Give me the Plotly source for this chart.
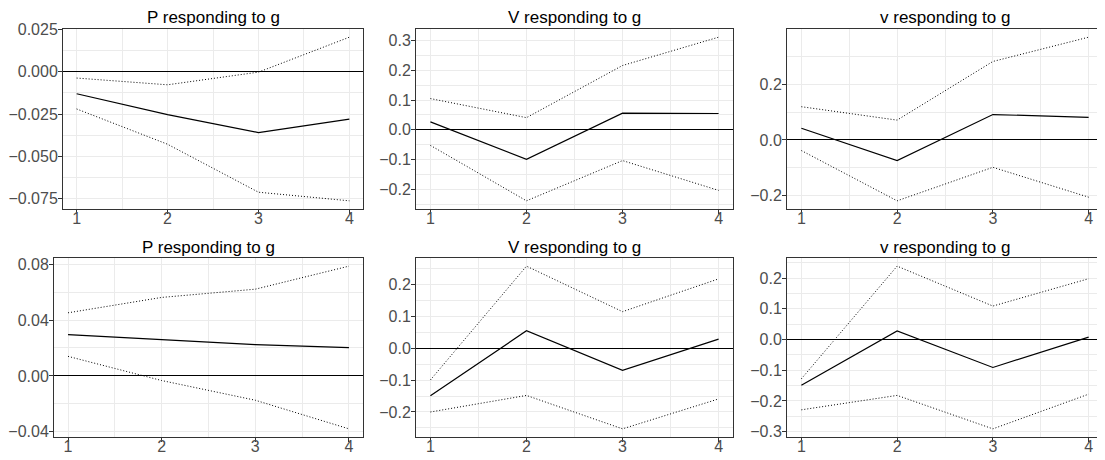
import plotly.graph_objects as go

steps = [1, 2, 3, 4]
titles = ["P responding to g", "V responding to g", "v responding to g",
          "P responding to g", "V responding to g", "v responding to g"]

# panel 1 (top-left)
p1_mid = [-0.0130, -0.0254, -0.0360, -0.0280]
p1_lo = [-0.0220, -0.0429, -0.0713, -0.0764]
p1_hi = [-0.0037, -0.0077, -0.0002, 0.0205]
# panel 2 (top-middle)
p2_mid = [0.027, -0.099, 0.056, 0.055]
p2_lo = [-0.052, -0.238, -0.103, -0.203]
p2_hi = [0.105, 0.041, 0.216, 0.311]
# panel 3 (top-right)
p3_mid = [0.042, -0.074, 0.091, 0.081]
p3_lo = [-0.038, -0.218, -0.098, -0.205]
p3_hi = [0.119, 0.071, 0.281, 0.368]
# panel 4 (bottom-left)
p4_mid = [0.0295, 0.0262, 0.0224, 0.0202]
p4_lo = [0.0140, -0.0033, -0.0174, -0.0379]
p4_hi = [0.0452, 0.0562, 0.0621, 0.0786]
# panel 5 (bottom-middle)
p5_mid = [-0.149, 0.055, -0.069, 0.029]
p5_lo = [-0.200, -0.148, -0.253, -0.159]
p5_hi = [-0.0995, 0.258, 0.115, 0.218]
# panel 6 (bottom-right)
p6_mid = [-0.149, 0.028, -0.091, 0.008]
p6_lo = [-0.229, -0.182, -0.291, -0.178]
p6_hi = [-0.128, 0.239, 0.109, 0.198]

y_ticks = [
    [-0.075, -0.050, -0.025, 0.000, 0.025],
    [-0.2, -0.1, 0.0, 0.1, 0.2, 0.3],
    [-0.2, 0.0, 0.2],
    [-0.04, 0.00, 0.04, 0.08],
    [-0.2, -0.1, 0.0, 0.1, 0.2],
    [-0.3, -0.2, -0.1, 0.0, 0.1, 0.2],
]
y_decimals = [3, 1, 1, 2, 1, 1]
x_ticks = [1, 2, 3, 4]

panels = [
    (p1_mid, p1_lo, p1_hi), (p2_mid, p2_lo, p2_hi), (p3_mid, p3_lo, p3_hi),
    (p4_mid, p4_lo, p4_hi), (p5_mid, p5_lo, p5_hi), (p6_mid, p6_lo, p6_hi),
]

OFF = 8  # page body margin of the html page
W, H = 1105 - OFF, 460 - OFF
ML, MR, MT, MB = 46, 2, 21, 23
IW, IH = W - ML - MR, H - MT - MB
# pixel boxes of each panel in the screenshot (left, right, top, bottom)
boxes = [
    (63, 363, 29, 209), (416, 733, 29, 209), (787, 1103, 29, 209),
    (54, 363, 258, 437), (416, 733, 258, 437), (787, 1103, 258, 437),
]
title_y = [17, 17, 17, 247, 247, 247]


def fx(px):
    return min(max((px - OFF - ML) / IW, 0.0), 1.0)


def fy(py):
    return (H - MB - (py - OFF)) / IH


def fmt(v, d):
    s = f"{v:.{d}f}"
    if s.startswith("-"):
        s = "\u2212" + s[1:]
    return s


fig = go.Figure()
layout = dict(
    width=W, height=H, margin=dict(l=ML, r=MR, t=MT, b=MB, autoexpand=False),
    paper_bgcolor="white", plot_bgcolor="white", showlegend=False,
    font=dict(family="Liberation Sans, Arial, sans-serif", color="#4D4D4D"),
    annotations=[],
)

grid = "#EBEBEB"
border = "#333333"
TF = 16

for i, (mid, lo, hi) in enumerate(panels):
    n = "" if i == 0 else str(i + 1)
    xa, ya = "x" + n, "y" + n
    for ser, dash, w in ((lo, "1px,2px", 1.0), (hi, "1px,2px", 1.0), (mid, "solid", 1.2)):
        fig.add_trace(go.Scatter(x=steps, y=ser, mode="lines", xaxis=xa, yaxis=ya,
                                 line=dict(color="black", width=w, dash=dash),
                                 hoverinfo="skip"))
    l, r, t, b = boxes[i]
    allv = mid + lo + hi
    vmin, vmax = min(allv), max(allv)
    ex = 0.05 * (vmax - vmin)
    yt = y_ticks[i]
    step = yt[1] - yt[0]
    yminor = [yt[0] - step / 2] + [v + step / 2 for v in yt]
    xminor = [0.5] + [v + 0.5 for v in x_ticks]
    layout["xaxis" + n] = dict(
        domain=[fx(l), fx(r)], anchor=ya, range=[0.85, 4.15], automargin=False,
        tickmode="array", tickvals=x_ticks, ticktext=[str(v) for v in x_ticks],
        showgrid=True, gridcolor=grid, gridwidth=1,
        minor=dict(tickmode="array", tickvals=xminor, showgrid=True, gridcolor=grid, gridwidth=0.6, ticklen=0),
        showline=True, mirror=True, linecolor=border, linewidth=1,
        ticks="outside", ticklen=4, tickcolor=border, tickwidth=1, ticklabelstandoff=-9,
        tickfont=dict(size=TF, color="#4D4D4D"), zeroline=False,
    )
    layout["yaxis" + n] = dict(
        domain=[fy(b), fy(t)], anchor=xa, range=[vmin - ex, vmax + ex], automargin=False,
        tickmode="array", tickvals=yt, ticktext=[fmt(v, y_decimals[i]) for v in yt],
        showgrid=True, gridcolor=grid, gridwidth=1,
        minor=dict(tickmode="array", tickvals=yminor, showgrid=True, gridcolor=grid, gridwidth=0.6, ticklen=0),
        showline=True, mirror=True, linecolor=border, linewidth=1,
        ticks="outside", ticklen=4, tickcolor=border, tickwidth=1, ticklabelstandoff=-3,
        tickfont=dict(size=TF, color="#4D4D4D"),
        zeroline=True, zerolinecolor="black", zerolinewidth=1.2,
    )
    layout["annotations"].append(dict(
        text=titles[i], xref="paper", yref="paper", x=fx((l + r) / 2), y=fy(title_y[i]),
        xanchor="center", yanchor="middle", showarrow=False,
        font=dict(size=17, color="black"),
    ))

fig.update_layout(**layout)
fig.write_html("out.html")
